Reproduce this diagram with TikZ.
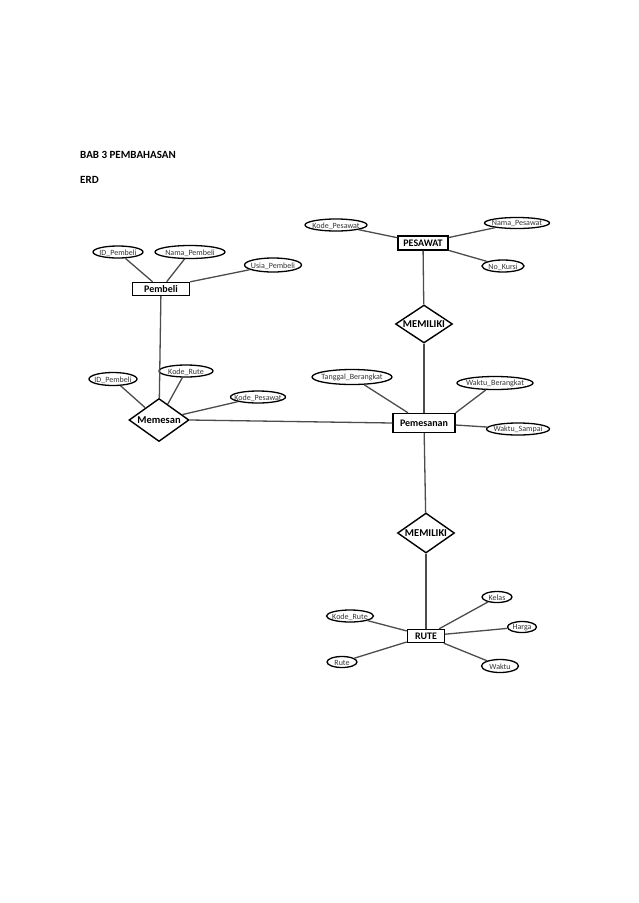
\documentclass[tikz,border=0pt]{standalone}
\usepackage{fontspec}
\setmainfont{Carlito}
\usetikzlibrary{shapes.geometric}
\tikzset{
  ent/.style={draw=black, line width=1.4pt, fill=white, inner sep=0pt, font=\fontsize{10}{11}\selectfont\bfseries},
  rel/.style={draw=black, line width=1.4pt, fill=white, diamond, inner sep=0pt},
  reltext/.style={font=\fontsize{10.5}{11}\selectfont\bfseries},
  attr/.style={draw=black, line width=1.3pt, fill=white, ellipse, inner sep=0pt},
  attrtext/.style={font=\fontsize{8}{9}\selectfont, text=black!80, inner sep=0pt, yshift=-0.8pt},
  conn/.style={draw=black!70, line width=1.3pt},
  head/.style={anchor=west, font=\fontsize{11}{12}\selectfont\bfseries, inner sep=0pt}
}
\begin{document}
\begin{tikzpicture}[x=1pt,y=-1pt]
\useasboundingbox (0,0) rectangle (638,903);
\fill[white] (0,0) rectangle (638,903);

\node[head] (h1) at (80,155) {BAB 3 PEMBAHASAN};
\node[head] (h2) at (80,180) {ERD};

% entities
\node[ent, minimum width=57, minimum height=13] (pembeli) at (161,289) {Pembeli};
\node[ent, minimum width=50, minimum height=14] (pesawat) at (423,243) {PESAWAT};
\node[ent, minimum width=62, minimum height=19] (pemesanan) at (424,423) {Pemesanan};
\node[ent, minimum width=37, minimum height=13] (rute) at (426,636) {RUTE};

% relationships
\node[rel, minimum width=60, minimum height=43, label={[reltext]center:Memesan}] (memesan) at (159,420) {};
\node[rel, minimum width=57, minimum height=38, label={[reltext]center:MEMILIKI}] (mem1) at (424,324) {};
\node[rel, minimum width=57, minimum height=40, label={[reltext]center:MEMILIKI}] (mem2) at (426,533) {};

% attributes Pembeli
\node[attr, minimum width=50, minimum height=12, label={[attrtext]center:ID\_Pembeli}] (idp) at (118,252) {};
\node[attr, minimum width=70, minimum height=13, label={[attrtext]center:Nama\_Pembeli}] (namap) at (190,252) {};
\node[attr, minimum width=57, minimum height=14, label={[attrtext]center:Usia\_Pembeli}] (usiap) at (273,265) {};

% attributes Memesan
\node[attr, minimum width=48, minimum height=13, label={[attrtext]center:ID\_Pembeli}] (idp2) at (113,379) {};
\node[attr, minimum width=54, minimum height=12, label={[attrtext]center:Kode\_Rute}] (kr1) at (186,371) {};
\node[attr, minimum width=55, minimum height=12, label={[attrtext]center:Kode\_Pesawat}] (kps2) at (258,397) {};

% attributes Pesawat
\node[attr, minimum width=62, minimum height=12, label={[attrtext]center:Kode\_Pesawat}] (kps) at (336,225) {};
\node[attr, minimum width=65, minimum height=11, label={[attrtext]center:Nama\_Pesawat}] (nps) at (517,223) {};
\node[attr, minimum width=42, minimum height=12, label={[attrtext]center:No\_Kursi}] (nk) at (503,266) {};

% attributes Pemesanan
\node[attr, minimum width=80, minimum height=15, label={[attrtext]center:Tanggal\_Berangkat}] (tb) at (352,377) {};
\node[attr, minimum width=76, minimum height=13, label={[attrtext]center:Waktu\_Berangkat}] (wb) at (495,383) {};
\node[attr, minimum width=63, minimum height=12, label={[attrtext]center:Waktu\_Sampai}] (ws) at (518,429) {};

% attributes Rute
\node[attr, minimum width=30, minimum height=11, label={[attrtext]center:Kelas}] (kel) at (497,597) {};
\node[attr, minimum width=29, minimum height=11, label={[attrtext]center:Harga}] (har) at (522,627) {};
\node[attr, minimum width=37, minimum height=13, label={[attrtext]center:Waktu}] (wak) at (500,666) {};
\node[attr, minimum width=47, minimum height=12, label={[attrtext]center:Kode\_Rute}] (kr2) at (350,616) {};
\node[attr, minimum width=30, minimum height=11, label={[attrtext]center:Rute}] (rt) at (342,662) {};

% connectors
\draw[conn] (idp) -- (pembeli);
\draw[conn] (namap) -- (pembeli);
\draw[conn] (usiap) -- (pembeli.north east);
\draw[conn] (pembeli) -- (memesan);
\draw[conn] (idp2) -- (memesan);
\draw[conn] (kr1) -- (memesan);
\draw[conn] (kps2) -- (memesan);
\draw[conn] (memesan.east) -- (pemesanan.west);
\draw[conn] (kps) -- (pesawat);
\draw[conn] (nps) -- (pesawat);
\draw[conn] (nk) -- (pesawat);
\draw[conn] (pesawat) -- (mem1);
\draw[conn] (mem1) -- (pemesanan);
\draw[conn] (tb) -- (pemesanan);
\draw[conn] (wb) -- (pemesanan.north east);
\draw[conn] (ws) -- (pemesanan);
\draw[conn] (pemesanan) -- (mem2);
\draw[conn] (mem2) -- (rute);
\draw[conn] (kel) -- (rute);
\draw[conn] (har) -- (rute);
\draw[conn] (wak) -- (rute);
\draw[conn] (kr2) -- (rute);
\draw[conn] (rt) -- (rute);
\end{tikzpicture}
\end{document}
